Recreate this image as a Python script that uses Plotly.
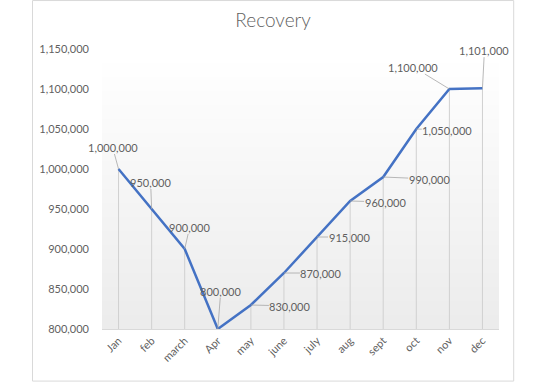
import plotly.graph_objects as go

months = ["Jan", "feb", "march", "Apr", "may", "june", "july", "aug", "sept", "oct", "nov", "dec"]
values = [1000000, 950000, 900000, 800000, 830000, 870000, 915000, 960000, 990000, 1050000, 1100000, 1101000]
tick_vals = [800000, 850000, 900000, 950000, 1000000, 1050000, 1100000, 1150000]
# label offsets (pixels) relative to each point
label_dx = [-6, -1, 5, 3, 39, 37, 32, 35, 46, 31, -36, 2]
label_dy = [-22, -27, -22, -38, 1, 0, 0, 1, 2, 1, -22, -38]

FONT = "Lato"
GRAY = "#5f5f5f"
y_min, y_max = 800000, 1150000

fig = go.Figure()
fig.add_trace(go.Scatter(
    x=months, y=values, mode="lines",
    line=dict(color="#4472C4", width=2.5),
    error_y=dict(type="data", symmetric=False,
                 array=[0] * len(values),
                 arrayminus=[v - y_min for v in values],
                 color="#d0d0d0", thickness=1, width=0),
    showlegend=False, hoverinfo="skip",
))

for m, v, dx, dy in zip(months, values, label_dx, label_dy):
    fig.add_annotation(
        x=m, y=v, text=f"{v:,}", showarrow=True, ax=dx, ay=dy,
        arrowhead=0, arrowwidth=0.8, arrowcolor="#a6a6a6",
        standoff=0, startstandoff=0, borderpad=0,
        font=dict(family=FONT, size=11, color=GRAY),
    )

# gradient plot background
shapes = []
n = 40
for i in range(n):
    t = i / (n - 1)
    c = int(round(255 - (255 - 236) * (1 - t)))
    shapes.append(dict(type="rect", xref="paper", yref="paper",
                       x0=0, x1=1, y0=i / n, y1=(i + 1) / n,
                       fillcolor=f"rgb({c},{c},{c})", line=dict(width=0),
                       layer="below"))
# chart border
shapes.append(dict(type="rect", xref="paper", yref="paper",
                   x0=-0.175, x1=1.037, y0=-0.186, y1=1.173,
                   line=dict(color="#d9d9d9", width=1), fillcolor="rgba(0,0,0,0)",
                   layer="below"))

fig.update_layout(
    width=550, height=383,
    margin=dict(l=102, r=51, t=49, b=54),
    paper_bgcolor="white", plot_bgcolor="white",
    title=dict(text="Recovery", x=0.4965, xanchor="center", y=0.947, yanchor="middle",
               font=dict(family=FONT, size=19, color=GRAY, weight=300)),
    font=dict(family=FONT, size=11, color=GRAY),
    shapes=shapes,
    xaxis=dict(type="category", range=[-0.5, 11.5], tickangle=-45,
               showgrid=False, showline=True, linecolor="#d9d9d9", linewidth=1,
               ticks="", tickfont=dict(family=FONT, size=11, color=GRAY)),
    yaxis=dict(range=[y_min, y_max], tickvals=tick_vals, tickformat=",",
               showgrid=False, zeroline=False, showline=False, ticks="",
               ticklabelstandoff=12,
               tickfont=dict(family=FONT, size=11, color=GRAY)),
)

fig.write_html("out.html", config={"displayModeBar": False},
               post_script="document.body.style.margin='0px';")
